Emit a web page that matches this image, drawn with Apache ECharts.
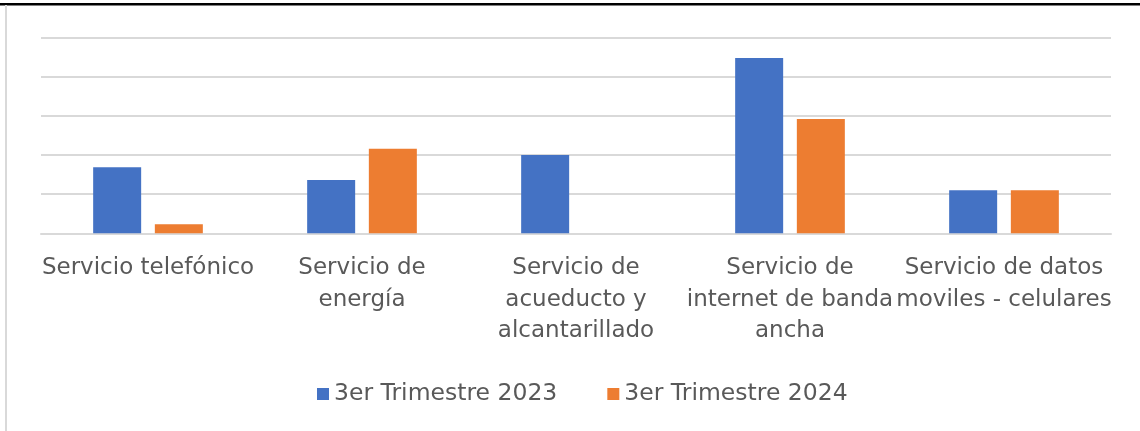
<!DOCTYPE html>
<html>
<head>
    <meta charset="utf-8">
    <title>Servicios</title>
    <script src="https://cdn.jsdelivr.net/npm/echarts@6/dist/echarts.min.js"></script>
    <style>
        html, body { margin: 0; padding: 0; background: #fff; }
        #main { width: 1140px; height: 431px; }
    </style>
</head>
<body>
    <div id="main"></div>
    <script type="text/javascript">
        // datos (unidades = una linea de cuadricula)
        var categorias = [
            'Servicio telefónico',
            'Servicio de\nenergía',
            'Servicio de\nacueducto y\nalcantarillado',
            'Servicio de\ninternet de banda\nancha',
            'Servicio de datos\nmoviles - celulares'
        ];
        var series2023 = [1.69, 1.36, 2.0, 4.48, 1.10];
        var series2024 = [0.23, 2.16, 0, 2.92, 1.10];
        var nombres = ['3er Trimestre 2023', '3er Trimestre 2024'];

        var myChart = echarts.init(document.getElementById('main'));
        var fuente = 'DejaVu Sans';

        var option = {
            animation: false,
            color: ['#4472C4', '#ED7D31'],
            textStyle: { fontFamily: fuente },
            graphic: [
                // marco: linea negra arriba, linea gris a la izquierda
                { type: 'rect', shape: { x: 0, y: 3, width: 1140, height: 2.5 }, style: { fill: '#000' } },
                { type: 'rect', shape: { x: 5, y: 5, width: 2, height: 426 }, style: { fill: '#d9d9d9' } }
            ],
            legend: {
                data: nombres,
                bottom: 20,
                left: 312,
                icon: 'rect',
                itemWidth: 12,
                itemHeight: 12,
                itemGap: 50,
                textStyle: { fontFamily: fuente, fontSize: 23.5, color: '#595959' }
            },
            grid: {
                left: 41,
                right: 29,
                top: 37.7,
                bottom: 197.7,
                containLabel: false
            },
            xAxis: {
                type: 'category',
                data: categorias,
                axisTick: { show: false },
                axisLine: { lineStyle: { color: '#d9d9d9', width: 2 } },
                axisLabel: {
                    interval: 0,
                    margin: 19,
                    fontFamily: fuente,
                    fontSize: 23,
                    lineHeight: 31.5,
                    color: '#595959'
                }
            },
            yAxis: {
                type: 'value',
                min: 0,
                max: 5,
                interval: 1,
                axisLabel: { show: false },
                axisLine: { show: false },
                axisTick: { show: false },
                splitLine: { lineStyle: { color: '#d9d9d9', width: 2 } }
            },
            series: [
                {
                    name: nombres[0],
                    type: 'bar',
                    barWidth: 48,
                    barGap: '28.5%',
                    data: series2023
                },
                {
                    name: nombres[1],
                    type: 'bar',
                    barWidth: 48,
                    data: series2024
                }
            ]
        };
        myChart.setOption(option);
    </script>
</body>
</html>
